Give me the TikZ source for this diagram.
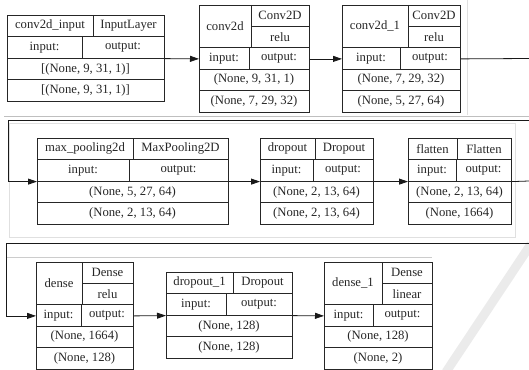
\documentclass[tikz,border=0pt]{standalone}
\usepackage{fontspec}
\setmainfont{Liberation Serif}
\usetikzlibrary{arrows.meta}
\tikzset{
  cell/.style={draw=black!85, line width=0.8pt},
  boxln/.style={draw=black!85, line width=0.8pt},
  txt/.style={font=\fontsize{12.7}{14}\selectfont, inner sep=0pt, text=black!85},
  arr/.style={draw=black!90, line width=0.8pt, -{Triangle[length=9pt,width=6pt]}},
  wire/.style={draw=black!90, line width=0.8pt},
  faint/.style={draw=black!12, line width=0.6pt},
  mid/.style={draw=black!25, line width=0.8pt}
}
\newcommand\rowsA[2]{\gdef\rthree{#1}\gdef\rfour{#2}}
% simple layer box: id, x1, x2, y0, split1, split2, name, class, {row3}{row4}
\newcommand\boxA[9]{%
  \rowsA#9%
  \pgfmathsetmacro\hh{21.6}%
  \pgfmathsetmacro\ya{#4+\hh}\pgfmathsetmacro\yb{#4+2*\hh}%
  \pgfmathsetmacro\yc{#4+3*\hh}\pgfmathsetmacro\yd{#4+4*\hh}%
  \node[cell, anchor=north west, inner sep=0pt, minimum width={(#3-#2)*1pt}, minimum height={4*\hh*1pt}] (#1) at (#2,#4) {};
  \draw[boxln] (#2,\ya) -- (#3,\ya) (#2,\yb) -- (#3,\yb) (#2,\yc) -- (#3,\yc);
  \draw[boxln] (#5,#4) -- (#5,\ya) (#6,\ya) -- (#6,\yb);
  \node[txt] (#1-n) at ({(#2+#5)/2},{#4+\hh/2}) {#7};
  \node[txt] (#1-c) at ({(#5+#3)/2},{#4+\hh/2}) {#8};
  \node[txt] (#1-i) at ({(#2+#6)/2},{\ya+\hh/2}) {input:};
  \node[txt] (#1-o) at ({(#6+#3)/2},{\ya+\hh/2}) {output:};
  \node[txt] (#1-r) at ({(#2+#3)/2},{\yb+\hh/2}) {\rthree};
  \node[txt] (#1-s) at ({(#2+#3)/2},{\yc+\hh/2}) {\rfour};
}
% layer box with activation: id, x1, x2, y0, split1, split2, name, {class}{act}, {row3}{row4}
\newcommand\rowsB[2]{\gdef\rcls{#1}\gdef\ract{#2}}
\newcommand\boxB[9]{%
  \rowsB#8\rowsA#9%
  \pgfmathsetmacro\hh{21.4}%
  \pgfmathsetmacro\ya{#4+\hh}\pgfmathsetmacro\yb{#4+2*\hh}%
  \pgfmathsetmacro\yc{#4+3*\hh}\pgfmathsetmacro\yd{#4+4*\hh}\pgfmathsetmacro\ye{#4+5*\hh}%
  \node[cell, anchor=north west, inner sep=0pt, minimum width={(#3-#2)*1pt}, minimum height={5*\hh*1pt}] (#1) at (#2,#4) {};
  \draw[boxln] (#5,\ya) -- (#3,\ya) (#2,\yb) -- (#3,\yb) (#2,\yc) -- (#3,\yc) (#2,\yd) -- (#3,\yd);
  \draw[boxln] (#5,#4) -- (#5,\yb) (#6,\yb) -- (#6,\yc);
  \node[txt] (#1-n) at ({(#2+#5)/2},{\ya}) {#7};
  \node[txt] (#1-c) at ({(#5+#3)/2},{#4+\hh/2}) {\rcls};
  \node[txt] (#1-a) at ({(#5+#3)/2},{\ya+\hh/2}) {\ract};
  \node[txt] (#1-i) at ({(#2+#6)/2},{\yb+\hh/2}) {input:};
  \node[txt] (#1-o) at ({(#6+#3)/2},{\yb+\hh/2}) {output:};
  \node[txt] (#1-r) at ({(#2+#3)/2},{\yc+\hh/2}) {\rthree};
  \node[txt] (#1-s) at ({(#2+#3)/2},{\yd+\hh/2}) {\rfour};
}
\begin{document}
\begin{tikzpicture}[x=1pt,y=-1pt]
\useasboundingbox (0,0) rectangle (529,369);
% faint background artefacts
\draw[black!8, line width=9pt, line cap=butt] (531,244) -- (446,372);
\draw[faint] (467,0) -- (467,115);
\draw[faint] (9,123) rectangle (515,237);
\draw[mid] (4,116) -- (529,116);
\draw[black!20, line width=0.7pt] (7,257) -- (432,257);
% row 1
\boxA{b1}{7}{164}{15}{93}{82}{conv2d\_input}{InputLayer}{{[(None, 9, 31, 1)]}{[(None, 9, 31, 1)]}}
\boxB{b2}{199}{309}{5}{251}{249}{conv2d}{{Conv2D}{relu}}{{(None, 9, 31, 1)}{(None, 7, 29, 32)}}
\boxB{b3}{342}{460}{5}{408}{400}{conv2d\_1}{{Conv2D}{relu}}{{(None, 7, 29, 32)}{(None, 5, 27, 64)}}
% row 2
\boxA{b4}{37}{228}{138}{133}{129}{max\_pooling2d}{MaxPooling2D}{{(None, 5, 27, 64)}{(None, 2, 13, 64)}}
\boxA{b5}{260}{373}{138}{315}{313}{dropout}{Dropout}{{(None, 2, 13, 64)}{(None, 2, 13, 64)}}
\boxA{b6}{408}{511}{138}{457}{456}{flatten}{Flatten}{{(None, 2, 13, 64)}{(None, 1664)}}
% row 3
\boxB{b7}{36}{133}{262}{82}{81}{dense}{{Dense}{relu}}{{(None, 1664)}{(None, 128)}}
\boxA{b8}{166}{292}{272}{233}{226}{dropout\_1}{Dropout}{{(None, 128)}{(None, 128)}}
\boxB{b9}{324}{432}{262}{382}{373}{dense\_1}{{Dense}{linear}}{{(None, 128)}{(None, 2)}}
% connectors
\coordinate (e1) at (529,58.5);
\coordinate (s2a) at (529,120);
\coordinate (s2b) at (8,120);
\coordinate (e2) at (529,181);
\coordinate (s3a) at (529,243);
\coordinate (s3b) at (6,243);
\draw[arr] (b1.east) -- (b2.west);
\draw[arr] (b2.east) -- (b3.west);
\draw[wire] (b3.east) -- (e1);
\draw[arr] (s2a) -- (s2b) |- (b4.west);
\draw[arr] (b4.east) -- (b5.west);
\draw[arr] (b5.east) -- (b6.west);
\draw[wire] (b6.east) -- (e2);
\draw[arr] (s3a) -- (s3b) |- (b7.west);
\draw[arr] (b7.east) -- (b8.west);
\draw[arr] (b8.east) -- (b9.west);
\end{tikzpicture}
\end{document}
